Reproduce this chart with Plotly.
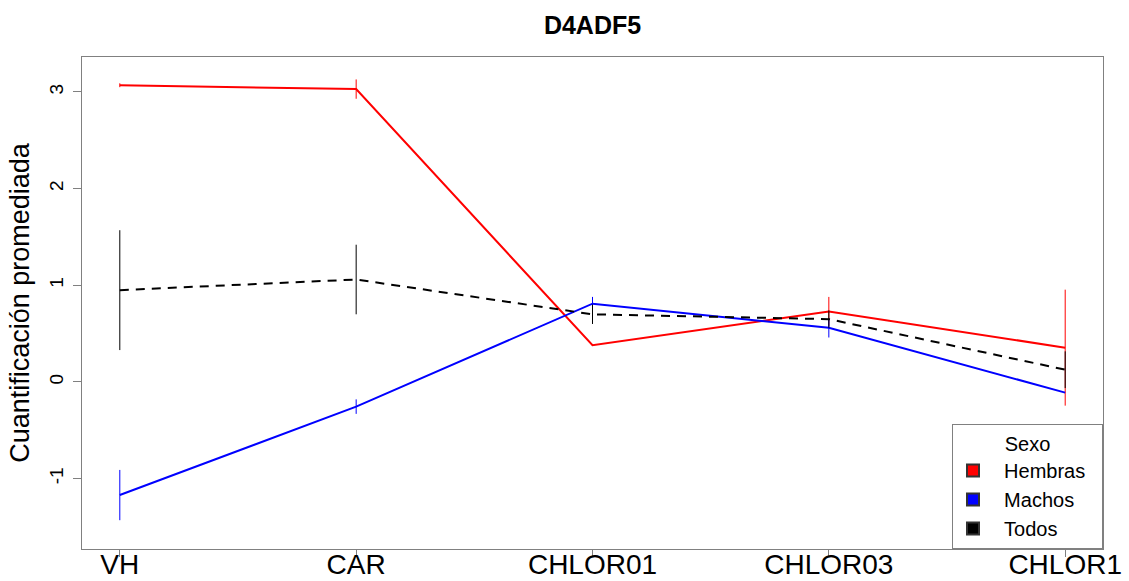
import plotly.graph_objects as go

categories = ["VH", "CAR", "CHLOR01", "CHLOR03", "CHLOR1"]
hembras = [3.07, 3.03, 0.38, 0.73, 0.355]
hembras_err = [0.02, 0.10, 0.0, 0.15, 0.60]
machos = [-1.17, -0.255, 0.81, 0.56, -0.11]
machos_err = [0.26, 0.075, 0.07, 0.10, 0.0]
todos = [0.95, 1.06, 0.70, 0.65, 0.127]
todos_err = [0.62, 0.36, 0.10, 0.09, 0.19]
y_ticks = [-1, 0, 1, 2, 3]
legend_names = ["Hembras", "Machos", "Todos"]
legend_colors = ["#FF0000", "#0000FF", "#000000"]

FONT = "Liberation Sans, Arial, sans-serif"
NB = "\u00a0"
xpos = list(range(1, len(categories) + 1))

fig = go.Figure()
series = [
    (hembras, hembras_err, "#FF0000", "solid"),
    (machos, machos_err, "#0000FF", "solid"),
    (todos, todos_err, "#000000", "9px,7px"),
]
for vals, err, col, dash in series:
    fig.add_trace(go.Scatter(
        x=xpos, y=vals, mode="lines",
        line=dict(color=col, width=2, dash=dash),
        error_y=dict(type="data", array=err, visible=True, color=col, thickness=1, width=0),
        showlegend=False, hoverinfo="skip",
    ))

for name, col in zip(legend_names, legend_colors):
    fig.add_trace(go.Scatter(
        x=[None], y=[None], mode="markers", name=NB * 2 + name + NB * 2,
        marker=dict(symbol="square", size=15, color=col, line=dict(color="#333333", width=1)),
    ))

fig.update_layout(
    width=1129, height=581,
    margin=dict(l=82, r=26, t=57, b=32),
    paper_bgcolor="white", plot_bgcolor="white",
    font=dict(family=FONT, color="black"),
    title=dict(text="<b>D4ADF5</b>", x=(82 + 1103) / 2 / 1129, xanchor="center",
               y=1 - 25 / 581, yanchor="middle", yref="container",
               font=dict(size=25, family=FONT, color="black")),
    showlegend=True,
    legend=dict(
        x=1, xanchor="right", y=0, yanchor="bottom",
        bordercolor="#808080", borderwidth=1, bgcolor="white",
        font=dict(size=20, family=FONT),
        title=dict(text="Sexo", side="top center", font=dict(size=20, family=FONT)),
        itemsizing="constant",
    ),
)

fig.update_xaxes(
    range=[0.84, 5.16], tickmode="array", tickvals=xpos, ticktext=categories,
    showgrid=False, zeroline=False, showline=True, mirror=True, linecolor="#808080", linewidth=1,
    ticks="outside", ticklen=7, tickcolor="#808080", automargin=False, ticklabelstandoff=-17,
    tickfont=dict(size=28, family=FONT, color="black"),
)
fig.update_yaxes(
    range=[-1.728, 3.362], tickmode="array", tickvals=y_ticks, ticktext=[str(v) for v in y_ticks],
    showgrid=False, zeroline=False, showline=True, mirror=True, linecolor="#808080", linewidth=1,
    ticks="outside", ticklen=8, tickcolor="#808080", tickangle=-90, ticklabelstandoff=2,
    tickfont=dict(size=19, family=FONT, color="black"), automargin=False,
    title=dict(text="Cuantificación promediada", font=dict(size=27, family=FONT, color="black"), standoff=8),
)

fig.write_html("out.html")
